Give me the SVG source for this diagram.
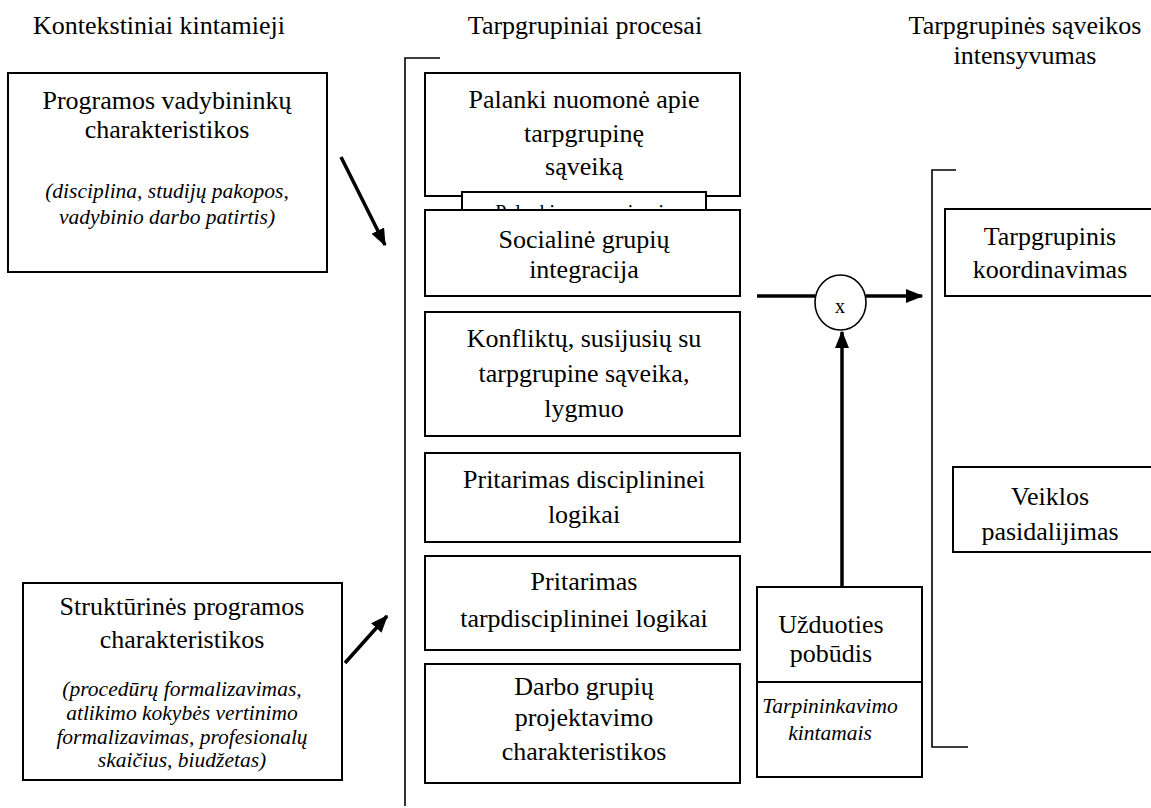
<svg xmlns="http://www.w3.org/2000/svg" width="1151" height="808" viewBox="0 0 1151 808">
  <style>
    .box { fill: #fff; stroke: #000; stroke-width: 2; }
    .br { fill: none; stroke: #000; stroke-width: 1.6; }
    .t { font-family: "Liberation Serif", "Times New Roman", serif; font-size: 26px; fill: #000; text-anchor: middle; }
    .i { font-family: "Liberation Serif", "Times New Roman", serif; font-size: 21.5px; font-style: italic; fill: #000; text-anchor: middle; }
    .s { font-family: "Liberation Serif", "Times New Roman", serif; font-size: 20px; fill: #000; text-anchor: middle; }
    .arr { fill: none; stroke: #000; stroke-width: 3.5; }
  </style>
  <defs>
    <marker id="head" markerWidth="5" markerHeight="4" refX="4.6" refY="2" orient="auto" markerUnits="strokeWidth">
      <path d="M0,0 L5,2 L0,4 Z" fill="#000"/>
    </marker>
  </defs>
  <rect width="1151" height="808" fill="#fff"/>

  <!-- column headings -->
  <g id="headings">
    <text class="t" x="159" y="34">Kontekstiniai kintamieji</text>
    <text class="t" x="585" y="34">Tarpgrupiniai procesai</text>
    <text class="t" x="1025" y="34">Tarpgrupinės sąveikos</text>
    <text class="t" x="1025" y="64">intensyvumas</text>
  </g>

  <!-- brackets -->
  <g id="brackets">
    <path class="br" d="M440,58 H405 V806"/>
    <path class="br" d="M956,170 H932 V747 H968"/>
  </g>

  <!-- context variables -->
  <g id="programos-vadybininku">
    <rect class="box" x="8" y="73" width="319" height="199"/>
    <text class="t" x="167" y="109">Programos vadybininkų</text>
    <text class="t" x="167" y="138">charakteristikos</text>
    <text class="i" x="167" y="198">(disciplina, studijų pakopos,</text>
    <text class="i" x="167" y="224">vadybinio darbo patirtis)</text>
  </g>
  <g id="strukturines-programos">
    <rect class="box" x="23" y="583" width="319" height="197"/>
    <text class="t" x="182" y="615">Struktūrinės programos</text>
    <text class="t" x="182" y="648">charakteristikos</text>
    <text class="i" x="182" y="696">(procedūrų formalizavimas,</text>
    <text class="i" x="182" y="720">atlikimo kokybės vertinimo</text>
    <text class="i" x="182" y="744">formalizavimas, profesionalų</text>
    <text class="i" x="182" y="767">skaičius, biudžetas)</text>
  </g>

  <!-- intergroup processes -->
  <g id="palanki-nuomone">
    <rect class="box" x="425" y="73" width="315" height="123"/>
    <text class="t" x="584" y="108">Palanki nuomonė apie</text>
    <text class="t" x="584" y="142">tarpgrupinę</text>
    <text class="t" x="584" y="175">sąveiką</text>
  </g>
  <g id="palanki-nuomone-kopija">
    <rect class="box" x="462" y="192" width="244" height="40"/>
    <text class="s" x="584" y="219">Palanki nuomonė apie</text>
  </g>
  <g id="socialine-integracija">
    <rect class="box" x="425" y="210" width="315" height="86"/>
    <text class="t" x="584" y="248">Socialinė grupių</text>
    <text class="t" x="584" y="278">integracija</text>
  </g>
  <g id="konfliktu-lygmuo">
    <rect class="box" x="425" y="312" width="315" height="124"/>
    <text class="t" x="584" y="347">Konfliktų, susijusių su</text>
    <text class="t" x="584" y="382">tarpgrupine sąveika,</text>
    <text class="t" x="584" y="417">lygmuo</text>
  </g>
  <g id="pritarimas-disciplininei">
    <rect class="box" x="425" y="453" width="315" height="89"/>
    <text class="t" x="584" y="488">Pritarimas disciplininei</text>
    <text class="t" x="584" y="523">logikai</text>
  </g>
  <g id="pritarimas-tarpdisciplininei">
    <rect class="box" x="425" y="556" width="315" height="94"/>
    <text class="t" x="584" y="590">Pritarimas</text>
    <text class="t" x="584" y="627">tarpdisciplininei logikai</text>
  </g>
  <g id="darbo-grupiu">
    <rect class="box" x="425" y="664" width="315" height="119"/>
    <text class="t" x="584" y="695">Darbo grupių</text>
    <text class="t" x="584" y="726">projektavimo</text>
    <text class="t" x="584" y="760">charakteristikos</text>
  </g>

  <!-- moderator -->
  <g id="uzduoties-pobudis">
    <rect class="box" x="757" y="587" width="165" height="95"/>
    <rect class="box" x="757" y="682" width="165" height="95"/>
    <text class="t" x="831" y="633">Užduoties</text>
    <text class="t" x="831" y="662">pobūdis</text>
    <text class="i" x="830" y="713">Tarpininkavimo</text>
    <text class="i" x="830" y="740">kintamais</text>
  </g>
  <g id="sandauga">
    <ellipse cx="840.5" cy="302.5" rx="25.5" ry="27.5" fill="#fff" stroke="#000" stroke-width="1.6"/>
    <text class="s" x="840" y="313">x</text>
  </g>

  <!-- outcomes -->
  <g id="tarpgrupinis-koordinavimas">
    <rect class="box" x="945" y="209" width="220" height="87"/>
    <text class="t" x="1050" y="245">Tarpgrupinis</text>
    <text class="t" x="1050" y="278">koordinavimas</text>
  </g>
  <g id="veiklos-pasidalijimas">
    <rect class="box" x="953" y="467" width="220" height="85"/>
    <text class="t" x="1050" y="505">Veiklos</text>
    <text class="t" x="1050" y="540">pasidalijimas</text>
  </g>

  <!-- connectors -->
  <g id="connectors">
    <line class="arr" x1="341" y1="157" x2="385" y2="245" marker-end="url(#head)"/>
    <line class="arr" x1="345" y1="663" x2="387" y2="616" marker-end="url(#head)"/>
    <line class="arr" x1="757" y1="296" x2="815" y2="296"/>
    <line class="arr" x1="866" y1="296" x2="922" y2="296" marker-end="url(#head)"/>
    <line class="arr" x1="842" y1="587" x2="842" y2="332" marker-end="url(#head)"/>
  </g>
</svg>
